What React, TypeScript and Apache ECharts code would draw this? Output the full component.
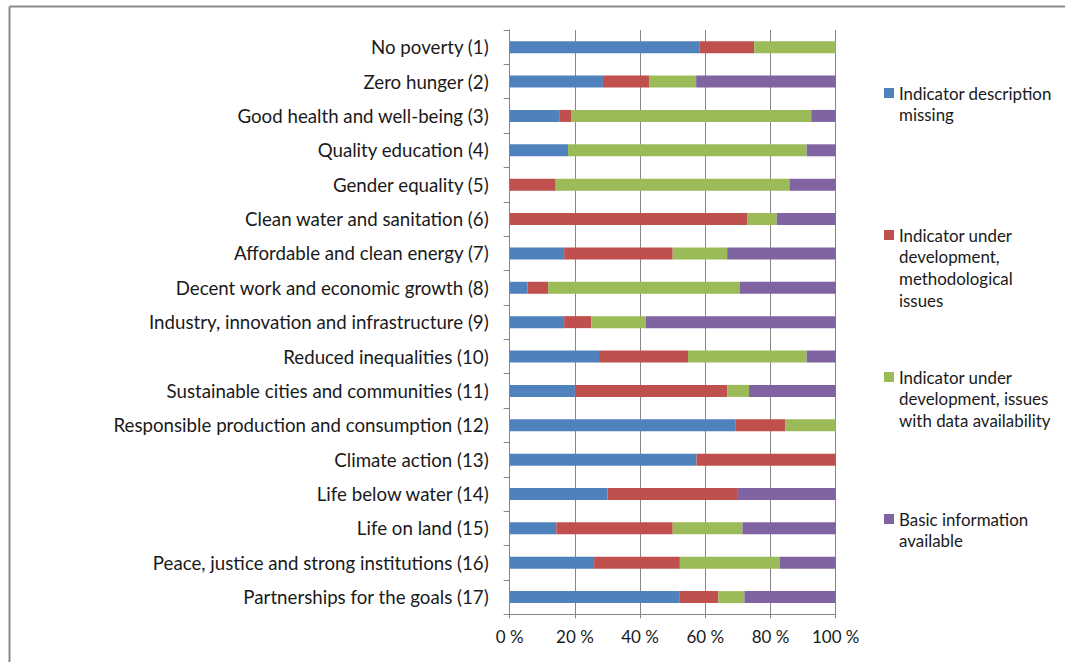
import React, { useEffect, useRef } from "react";
import * as echarts from "echarts";

const categories = [
  "No poverty (1)",
  "Zero hunger (2)",
  "Good health and well-being (3)",
  "Quality education (4)",
  "Gender equality (5)",
  "Clean water and sanitation (6)",
  "Affordable and clean energy (7)",
  "Decent work and economic growth (8)",
  "Industry, innovation and infrastructure (9)",
  "Reduced inequalities (10)",
  "Sustainable cities and communities (11)",
  "Responsible production and consumption (12)",
  "Climate action (13)",
  "Life below water (14)",
  "Life on land (15)",
  "Peace, justice and strong institutions (16)",
  "Partnerships for the goals (17)",
];

const seriesNames = [
  "Indicator description missing",
  "Indicator under development, methodological issues",
  "Indicator under development, issues with data availability",
  "Basic information available",
];

const legendLines = [
  "Indicator description\nmissing",
  "Indicator under\ndevelopment,\nmethodological\nissues",
  "Indicator under\ndevelopment, issues\nwith data availability",
  "Basic information\navailable",
];

const descriptionMissing = [58.3, 28.6, 15.2, 17.9, 0, 0, 16.7, 5.5, 16.7, 27.4, 20.0, 69.2, 57.3, 30.0, 14.3, 25.9, 52.0];
const methodological = [16.7, 14.3, 3.8, 0, 14.1, 72.8, 33.3, 6.3, 8.3, 27.3, 46.7, 15.4, 42.7, 40.0, 35.7, 26.3, 12.0];
const dataAvailability = [25.0, 14.3, 73.5, 73.2, 71.7, 9.1, 16.7, 58.8, 16.7, 36.4, 6.7, 15.4, 0, 0, 21.4, 30.6, 8.0];
const basicInfo = [0, 42.8, 7.5, 8.9, 14.2, 18.1, 33.3, 29.4, 58.3, 8.9, 26.6, 0, 0, 30.0, 28.6, 17.2, 28.0];

const xTicks = [0, 20, 40, 60, 80, 100];

const colors = ["#4F81BD", "#C0504D", "#9BBB59", "#8064A2"];

const FONT = "Lato, 'Open Sans', sans-serif";

export default function App() {
  const ref = useRef<HTMLDivElement>(null);
  useEffect(() => {
    if (!ref.current) return;
    const chart = echarts.init(ref.current, undefined, { renderer: "svg" });
    const values = [descriptionMissing, methodological, dataAvailability, basicInfo];
    const legendTops = [93, 235, 377, 519];
    const graphic: any[] = [
      { type: "line", shape: { x1: 9.5, y1: 6.5, x2: 1065, y2: 6.5 }, style: { stroke: "#8a8a8a", lineWidth: 2 } },
      { type: "line", shape: { x1: 9.5, y1: 6.5, x2: 9.5, y2: 662 }, style: { stroke: "#8a8a8a", lineWidth: 2 } },
    ];
    legendLines.forEach((t, i) => {
      graphic.push({
        type: "rect",
        shape: { x: 884, y: legendTops[i] - 5, width: 10, height: 10 },
        style: { fill: colors[i] },
      });
      graphic.push({
        type: "text",
        style: {
          text: t,
          x: 899,
          y: legendTops[i] - 10.85,
          font: `16.9px ${FONT}`,
          lineHeight: 21.7,
          fill: "#1a1a1a",
          verticalAlign: "top",
          align: "left",
        },
      });
    });
    chart.setOption({
      animation: false,
      color: colors,
      grid: { left: 509.7, right: 229.3, top: 30, bottom: 47.7, containLabel: false },
      xAxis: {
        type: "value",
        min: 0,
        max: 100,
        interval: 20,
        axisLine: { show: true, lineStyle: { color: "#868686" } },
        axisTick: { show: true, length: 4, lineStyle: { color: "#868686" } },
        splitLine: { show: true, lineStyle: { color: "#868686", width: 1 } },
        axisLabel: {
          formatter: (v: number) => (xTicks.includes(v) ? `${v} %` : ""),
          color: "#1a1a1a",
          fontSize: 17,
          fontFamily: FONT,
          margin: 14,
        },
      },
      yAxis: {
        type: "category",
        data: categories,
        inverse: true,
        axisLine: { show: true, lineStyle: { color: "#868686" } },
        axisTick: { show: true, length: 6, lineStyle: { color: "#868686" } },
        axisLabel: { color: "#1a1a1a", fontSize: 18.7, fontFamily: FONT, margin: 21 },
      },
      graphic,
      series: seriesNames.map((name, i) => ({
        name,
        type: "bar",
        stack: "total",
        barWidth: 12,
        data: values[i],
        itemStyle: { color: colors[i] },
      })),
    });
    return () => chart.dispose();
  }, []);
  return (
    <div
      ref={ref}
      style={{ position: "fixed", left: 0, top: 0, width: 1065, height: 662, background: "#fff" }}
    />
  );
}
